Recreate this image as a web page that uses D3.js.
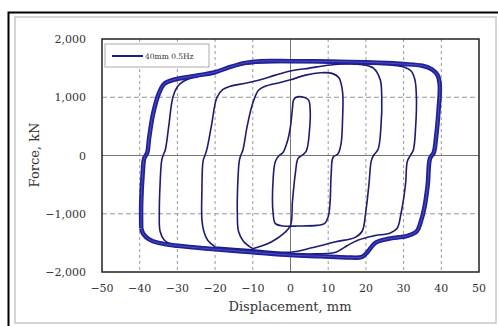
<!DOCTYPE html>
<html lang="en">
<head>
<meta charset="utf-8">
<script src="https://cdn.jsdelivr.net/npm/d3@7"></script>
<style>
  body { margin: 0; background: #fff; }
  text { font-family: "DejaVu Serif", "Liberation Serif", serif; fill: #333; }
</style>
</head>
<body>
<div id="chart"></div>
<script>
var w = 498, h = 326;

// values: [displacement mm, force kN]
var xTicks = [-50, -40, -30, -20, -10, 0, 10, 20, 30, 40, 50];
var yTicks = [-2000, -1000, 0, 1000, 2000];
var legendLabel = "40mm 0.5Hz";

// outer loop, +-40 mm (several cycles on top of each other)
var loopA = [[-39.6,-1250],[-39.6,-800],[-39.2,-300],[-38.8,-50],[-38,50],[-37.5,300],[-36.5,700],
  [-35,1050],[-33.5,1230],[-31,1300],[-25,1370],[-20,1430],[-16,1520],[-12,1590],[-8,1620],[0,1620],
  [10,1615],[20,1600],[30,1570],[35,1540],[37.5,1480],[39,1380],[39.6,1200],[39.3,800],[38.6,300],
  [38,50],[37,-50],[36.4,-500],[35.5,-900],[34.5,-1150],[33.5,-1300],[31,-1380],[26,-1430],[22.5,-1500],
  [20.5,-1650],[19,-1740],[15,-1750],[8,-1730],[0,-1710],[-10,-1660],[-20,-1610],[-30,-1550],
  [-35,-1500],[-37.5,-1440],[-39,-1350],[-39.6,-1250]];

var loopB = [[-31,-1540],[-33.5,-1450],[-34.6,-1300],[-34.8,-1000],[-34.6,-500],[-34.2,-100],[-33.8,0],
  [-33.2,100],[-32.3,500],[-31.2,1000],[-30,1180],[-28.5,1270],[-26,1340],[-20,1420],[-15,1530],
  [-10,1580],[0,1600],[10,1590],[20,1570],[27,1550],[30,1520],[32,1450],[33,1300],[33.4,1000],
  [33.2,500],[32.6,100],[31.8,0],[31,-100],[30.5,-500],[29.3,-1000],[28.3,-1250],[26.5,-1330],
  [22,-1380],[18,-1450],[15,-1550],[12,-1660],[5,-1690],[0,-1680],[-10,-1640],[-20,-1590],[-31,-1540]];

var loopC = [[-20,-1570],[-22,-1450],[-23,-1300],[-23.5,-1100],[-23.5,-600],[-23.2,-100],[-22.7,0],
  [-22.2,100],[-21,500],[-19.5,1000],[-18,1130],[-16,1190],[-12,1240],[-8,1300],[-4,1380],[0,1450],
  [5,1500],[10,1550],[15,1570],[19,1560],[22,1500],[23.8,1300],[24.2,1000],[24,500],[23.2,100],
  [22,0],[21.4,-100],[20.8,-500],[19.9,-1000],[19,-1300],[17,-1410],[12,-1480],[6,-1580],[0,-1660],
  [-10,-1620],[-20,-1570]];

var loopD = [[-10,-1600],[-12.5,-1470],[-13.8,-1300],[-14.1,-1000],[-14,-500],[-13.6,-100],[-13.2,0],
  [-12.6,100],[-11.5,500],[-10,900],[-8.5,1120],[-7,1180],[-3,1250],[0,1300],[4,1380],[8,1420],
  [11,1410],[12.8,1340],[13.8,1100],[13.8,600],[13.4,200],[12.6,30],[11.3,-30],[10.8,-300],
  [10.5,-800],[10,-1050],[9,-1170],[7,-1200],[2,-1210],[-2,-1210],[-4,-1170],[-4.6,-1000],
  [-4.6,-400],[-4,-100],[-3,0],[-2,50],[-0.8,250],[0,500],[0.5,800],[0.8,950],[1.5,1000],[3.5,1000],
  [4.8,950],[5.2,800],[5,400],[4.2,80],[3,0],[2,-50],[1.3,-300],[0.5,-800],[0,-1200],[-2,-1350],
  [-5,-1480],[-7.5,-1550],[-10,-1600]];

var svg = d3.select("#chart").append("svg")
  .attr("width", w).attr("height", h);

// frame round the figure
svg.append("rect").attr("x", 15).attr("y", 17).attr("width", 481).attr("height", 306)
  .attr("fill", "none").attr("stroke", "#c8c8c8").attr("stroke-width", 1.5);
svg.append("path").attr("d", "M8.5,326V12.5H498")
  .attr("fill", "none").attr("stroke", "#000").attr("stroke-width", 2);

var x = d3.scaleLinear().domain([-50, 50]).range([102, 479]);
var y = d3.scaleLinear().domain([-2000, 2000]).range([272, 39]);

// grid
svg.selectAll(".vgrid").data(xTicks.filter(function(d){ return d > -50 && d < 50; }))
  .enter().append("line")
  .attr("x1", function(d){ return x(d); }).attr("x2", function(d){ return x(d); })
  .attr("y1", y(2000)).attr("y2", y(-2000))
  .attr("stroke", function(d){ return d == 0 ? "#777" : "#999"; })
  .attr("stroke-width", 1)
  .attr("stroke-dasharray", function(d){ return d == 0 ? null : "3,3"; });
svg.selectAll(".hgrid").data(yTicks.filter(function(d){ return d > -2000 && d < 2000; }))
  .enter().append("line")
  .attr("y1", function(d){ return y(d); }).attr("y2", function(d){ return y(d); })
  .attr("x1", x(-50)).attr("x2", x(50))
  .attr("stroke", function(d){ return d == 0 ? "#777" : "#999"; })
  .attr("stroke-width", 1)
  .attr("stroke-dasharray", function(d){ return d == 0 ? null : "5,3"; });

// tick labels
var fmt = d3.format(",");
svg.selectAll(".ylab").data(yTicks).enter().append("text")
  .attr("x", 86).attr("y", function(d){ return y(d) + 4; })
  .attr("text-anchor", "end").attr("font-size", "11px")
  .text(function(d){ return fmt(d).replace("-", "\u2212"); });
svg.selectAll(".xlab").data(xTicks).enter().append("text")
  .attr("x", function(d){ return x(d); }).attr("y", 292)
  .attr("text-anchor", "middle").attr("font-size", "11px")
  .text(function(d){ return String(d).replace("-", "\u2212"); });

// axis titles
svg.append("text").attr("x", 290).attr("y", 311).attr("text-anchor", "middle")
  .attr("font-size", "13px").text("Displacement, mm");
svg.append("text").attr("transform", "translate(39,155) rotate(-90)")
  .attr("text-anchor", "middle").attr("font-size", "13px").text("Force, kN");

// curves
var line = d3.line()
  .x(function(d){ return x(d[0]); })
  .y(function(d){ return y(d[1]); })
  .curve(d3.curveCatmullRom.alpha(0.5));

[loopB, loopC, loopD].forEach(function(l) {
  svg.append("path").attr("d", line(l))
    .attr("fill", "none").attr("stroke", "#1c1c72").attr("stroke-width", 1.6);
});
svg.append("path").attr("d", line(loopA))
  .attr("fill", "none").attr("stroke", "#20209a").attr("stroke-width", 4.5);
svg.append("path").attr("d", line(loopA))
  .attr("fill", "none").attr("stroke", "#5a5ac8").attr("stroke-width", 0.8);

// plot border
svg.append("rect").attr("x", x(-50)).attr("y", y(2000))
  .attr("width", x(50) - x(-50)).attr("height", y(-2000) - y(2000))
  .attr("fill", "none").attr("stroke", "#222").attr("stroke-width", 1.5);

// legend
svg.append("rect").attr("x", 105).attr("y", 44).attr("width", 104).attr("height", 23)
  .attr("fill", "#fff").attr("stroke", "#aaa").attr("stroke-width", 1);
svg.append("line").attr("x1", 112).attr("x2", 143).attr("y1", 56).attr("y2", 56)
  .attr("stroke", "#1c1c8a").attr("stroke-width", 2);
svg.append("text").attr("x", 145).attr("y", 59).attr("font-size", "7.5px")
  .text(legendLabel);
</script>
</body>
</html>
